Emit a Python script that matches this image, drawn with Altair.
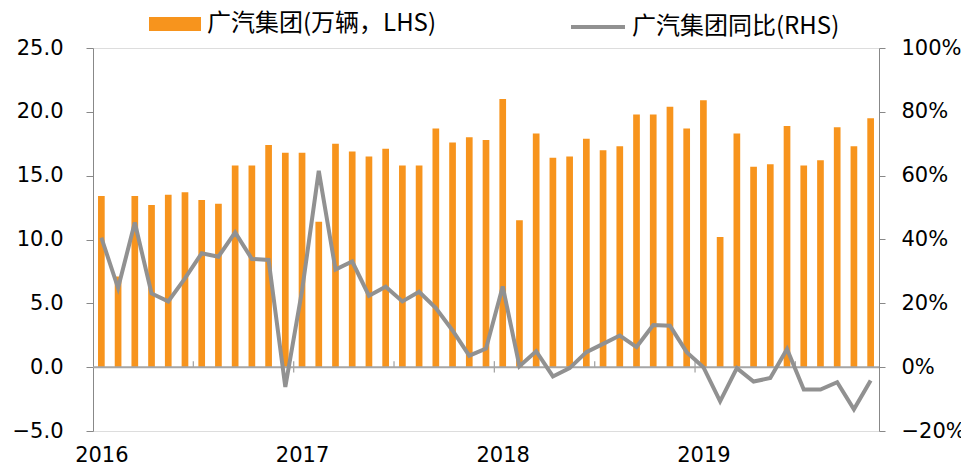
import json
import altair as alt
import pandas as pd

FONT = "Noto Sans CJK SC"
NUM_FONT = "DejaVu Sans"
ORANGE = "#F7941D"
LINE_GRAY = "#919191"
AXIS_GRAY = "#A6A6A6"

years = ["2016", "2017", "2018", "2019"]
months = [f"{y}-{m:02d}" for y in years for m in range(1, 13)][:47]

# 广汽集团 monthly sales (10k units)
sales = [13.4, 7.1, 13.4, 12.7, 13.5, 13.7, 13.1, 12.8, 15.8, 15.8, 17.4, 16.8,
         16.8, 11.4, 17.5, 16.9, 16.5, 17.1, 15.8, 15.8, 18.7, 17.6, 18.0, 17.8,
         21.0, 11.5, 18.3, 16.4, 16.5, 17.9, 17.0, 17.3, 19.8, 19.8, 20.4, 18.7,
         20.9, 10.2, 18.3, 15.7, 15.9, 18.9, 15.8, 16.2, 18.8, 17.3, 19.5]

# YoY growth (%)
yoy = [40.6, 24.8, 45.3, 23.1, 20.6, 27.8, 35.7, 34.6, 42.2, 33.9, 33.6, -6.2,
       24.0, 61.5, 30.6, 33.1, 22.4, 25.2, 20.6, 23.6, 18.5, 11.5, 3.6, 5.8,
       25.3, 0.3, 5.0, -2.9, -0.3, 4.7, 7.3, 9.9, 6.3, 13.2, 13.0, 4.7,
       0.0, -10.7, -0.3, -4.5, -3.4, 5.7, -7.0, -7.0, -4.7, -13.2, -4.2]

left_ticks = [-5, 0, 5, 10, 15, 20, 25]
right_ticks = [-0.2, 0.0, 0.2, 0.4, 0.6, 0.8, 1.0]
bar_label = "广汽集团(万辆，LHS)"
line_label = "广汽集团同比(RHS)"

n = len(months)
df = pd.DataFrame({
    "month": months,
    "idx": list(range(n)),
    "sales": sales,
    "yoy": [v / 100 for v in yoy],
})
df["x0"] = df["idx"] + 0.3
df["x1"] = df["idx"] + 0.7
df["xc"] = df["idx"] + 0.5
df["base"] = 0.0
df["s1"] = bar_label
df["s2"] = line_label

year_label_pos = [months.index(f"{y}-01") + 0.5 for y in years]
label_expr = json.dumps(years) + "[floor(datum.value / 12)]"

# axis tick marks on the zero line: half-year boundaries (up), year boundaries (cross)
tick_rows = []
for k in range(6, n, 6):
    if k % 12 == 0:
        tick_rows.append({"tx": k, "ya": 0.47, "yb": -0.42})
    else:
        tick_rows.append({"tx": k, "ya": 0.47, "yb": 0.0})
ticks_df = pd.DataFrame(tick_rows)
zero_df = pd.DataFrame({"a": [0], "b": [n], "z": [0]})

xs = alt.Scale(domain=[0, n], nice=False, zero=False)
ys = alt.Scale(domain=[-5, 25], nice=False, zero=False)
ys2 = alt.Scale(domain=[-0.2, 1.0], nice=False, zero=False)


def x_axis():
    return alt.Axis(
        values=year_label_pos, labelExpr=label_expr, domain=False, ticks=False,
        tickSize=0, grid=False, labelPadding=30, labelBaseline="alphabetic",
        labelFontSize=21, labelAlign="center", labelFont=NUM_FONT, title=None)


bars = alt.Chart(df).mark_bar().encode(
    x=alt.X("x0:Q", scale=xs, axis=x_axis()),
    x2="x1:Q",
    y=alt.Y("sales:Q", scale=ys, axis=alt.Axis(
        orient="left", values=left_ticks, format=".1f", tickSize=7, labelPadding=23,
        labelFontSize=21, labelFont=NUM_FONT, title=None, grid=False)),
    y2="base:Q",
    fill=alt.Fill("s1:N", scale=alt.Scale(domain=[bar_label], range=[ORANGE]),
                  legend=alt.Legend(
                      title=None, orient="none", legendX=56, legendY=-50,
                      symbolType="M-1,-0.27H1V0.27H-1Z", symbolSize=2704,
                      symbolStrokeWidth=0, labelFontSize=24, labelOffset=6,
                      labelFont=FONT, labelColor="black", padding=0, labelLimit=400)),
)

zero = alt.Chart(zero_df).mark_rule(color=AXIS_GRAY, strokeWidth=2).encode(
    x=alt.X("a:Q", scale=xs, axis=x_axis()),
    x2="b:Q",
    y=alt.Y("z:Q", scale=ys, axis=None),
)

ticks = alt.Chart(ticks_df).mark_rule(color=AXIS_GRAY, strokeWidth=1.3).encode(
    x=alt.X("tx:Q", scale=xs, axis=x_axis()),
    y=alt.Y("ya:Q", scale=ys, axis=None),
    y2="yb:Q",
)

line = alt.Chart(df).mark_line(strokeWidth=4).encode(
    x=alt.X("xc:Q", scale=xs, axis=x_axis()),
    y=alt.Y("yoy:Q", scale=ys2, axis=alt.Axis(
        orient="right", values=right_ticks, format=".0%", tickSize=6,
        labelPadding=16, labelFontSize=21, labelFont=NUM_FONT, title=None, grid=False)),
    stroke=alt.Stroke("s2:N", scale=alt.Scale(domain=[line_label], range=[LINE_GRAY]),
                      legend=alt.Legend(
                          title=None, orient="none", legendX=476, legendY=-50,
                          symbolType="stroke", symbolSize=2916, symbolStrokeWidth=4,
                          labelFontSize=24, labelOffset=5, labelFont=FONT,
                          labelColor="black", padding=0, labelLimit=400)),
)

chart = alt.layer(bars, zero, ticks, line).resolve_scale(y="independent").properties(
    width=786, height=383,
    autosize=alt.AutoSizeParams(type="none"),
    padding={"left": 85, "top": 40, "right": 82, "bottom": 35},
).configure_view(stroke=None).configure_axis(
    domainColor=AXIS_GRAY, domainWidth=1.3, tickColor=AXIS_GRAY, tickWidth=1.3,
    labelColor="black",
).configure(font=FONT)

chart.save("out.html", embed_options={"renderer": "svg", "actions": False})
